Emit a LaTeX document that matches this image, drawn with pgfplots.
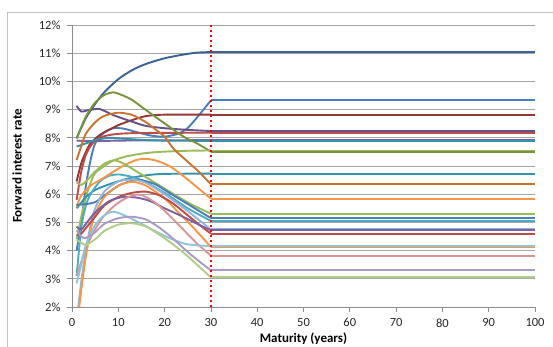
\documentclass[border=0pt]{standalone}
\usepackage{fontspec}
\setmainfont{Carlito}
\usepackage{pgfplots}
\pgfplotsset{compat=1.18}
\definecolor{axisgray}{HTML}{8C8C8C}
\definecolor{gridgray}{HTML}{A6A6A6}
\definecolor{cDarkBlue}{HTML}{3B6196}
\definecolor{cBlue}{HTML}{4A7EBB}
\definecolor{cDarkRed}{HTML}{953735}
\definecolor{cRed}{HTML}{BE4B48}
\definecolor{cDarkPurple}{HTML}{65508A}
\definecolor{cPurple}{HTML}{7D60A0}
\definecolor{cOlive}{HTML}{77933C}
\definecolor{cGreen}{HTML}{9BBB59}
\definecolor{cLightGreen}{HTML}{B3CC86}
\definecolor{cTeal}{HTML}{3592AB}
\definecolor{cAqua}{HTML}{4BACC6}
\definecolor{cBrownOrange}{HTML}{C8742F}
\definecolor{cOrange}{HTML}{F79646}
\definecolor{cLightBlue}{HTML}{8EC3DC}
\definecolor{cBlueLav}{HTML}{95B3D7}
\definecolor{cPink}{HTML}{D99694}
\definecolor{cLavender}{HTML}{A99BC5}
\newcommand{\ser}[3]{%
  \addplot[#1, line width=1.9pt, smooth, tension=0.45, line join=round] coordinates {#2};
  \addplot[#1, line width=1.9pt] coordinates {(30,#3) (100,#3)};
}
\begin{document}
\begin{tikzpicture}
\path[use as bounding box] (-72pt,-40pt) rectangle (481pt,307pt);
\draw[gridgray!70, line width=0.8pt] (-65pt,-60pt) -- (-65pt,295pt) -- (500pt,295pt);
\begin{axis}[
  scale only axis, width=463pt, height=282pt,
  at={(0pt,0pt)}, anchor=south west,
  xmin=0, xmax=100, ymin=2, ymax=12,
  axis x line*=bottom, axis y line*=left,
  axis line style={color=axisgray, line width=0.8pt, -},
  xtick={0,10,20,30,40,50,60,70,80,90,100},
  xticklabels={0,10,20,30,40,50,60,70,80,90,100},
  ytick={2,3,4,5,6,7,8,9,10,11,12},
  yticklabels={2\%,3\%,4\%,5\%,6\%,7\%,8\%,9\%,10\%,11\%,12\%},
  ymajorgrids, grid style={gridgray, line width=0.8pt},
  tick align=outside, major tick length=5pt,
  tick style={axisgray, line width=0.8pt},
  tick label style={font=\fontsize{12.5}{14}\selectfont, color=black!85},
  yticklabel style={xshift=-3pt},
  xticklabel style={yshift=-3pt},
  xlabel={Maturity (years)}, ylabel={Forward interest rate},
  label style={font=\bfseries\fontsize{13}{15}\selectfont},
  xlabel style={at={(axis description cs:0.5,0)}, anchor=center, yshift=-31.5pt},
  ylabel style={at={([xshift=-55pt]axis description cs:0,0.5)}, anchor=center},
]
% A dark blue -> 11.04
\ser{cDarkBlue}{(1,7.98)(3,8.7)(5,9.2)(7,9.62)(10,10.08)(13,10.4)(16,10.62)(20,10.82)(24,10.95)(27,11.02)(30,11.04)}{11.04}
% B blue -> 9.33
\ser{cBlue}{(1,4.0)(2,5.0)(3,6.3)(4,7.2)(5,7.8)(7,8.2)(9,8.34)(11,8.33)(14,8.2)(17,8.08)(20,8.04)(23,8.15)(25,8.35)(27,8.72)(29,9.12)(30,9.33)}{9.33}
% C dark red -> 8.82
\ser{cDarkRed}{(1,6.45)(2,7.1)(3,7.5)(4,7.8)(6,8.1)(8,8.28)(10,8.45)(13,8.63)(16,8.77)(20,8.82)(30,8.82)}{8.82}
% D dark purple -> 8.24
\ser{cDarkPurple}{(1,9.13)(2,8.93)(3,8.96)(4,8.99)(6,9.02)(9,8.8)(13,8.57)(16,8.42)(20,8.34)(25,8.28)(30,8.24)}{8.24}
% E red -> 8.18
\ser{cRed}{(1,5.8)(2,6.8)(3,7.4)(4,7.7)(5,7.9)(7,8.06)(10,8.14)(15,8.17)(30,8.18)}{8.18}
% F purple -> 7.92
\ser{cPurple}{(1,7.9)(5,7.88)(10,7.9)(20,7.91)(30,7.92)}{7.92}
% G teal -> 7.89
\ser{cTeal}{(1,7.69)(3,7.8)(5,7.92)(8,8.0)(10,7.98)(15,7.93)(20,7.9)(30,7.89)}{7.89}
% H olive -> 7.51
\ser{cOlive}{(1,7.98)(3,8.75)(5,9.25)(7,9.52)(9,9.61)(11,9.5)(13,9.34)(16,8.98)(20,8.51)(24,8.05)(27,7.8)(30,7.51)}{7.51}
% I green -> 7.55
\ser{cGreen}{(1,4.4)(2,5.2)(3,5.9)(4,6.4)(5,6.75)(7,7.0)(9,7.2)(12,7.35)(16,7.46)(20,7.51)(25,7.54)(30,7.55)}{7.55}
% J teal -> 6.73
\ser{cTeal}{(1,5.5)(2,5.7)(3,5.9)(5,6.15)(8,6.35)(12,6.55)(16,6.67)(20,6.72)(30,6.73)}{6.73}
% K aqua -> 5.05
\ser{cAqua}{(1,3.1)(2,4.8)(3,5.6)(4,6.0)(6,6.45)(8,6.65)(10,6.7)(12,6.65)(15,6.5)(20,6.05)(25,5.5)(30,5.05)}{5.05}
% L brown orange -> 6.35
\ser{cBrownOrange}{(1,7.21)(2,7.7)(3,8.15)(5,8.55)(7,8.78)(10,8.89)(13,8.81)(16,8.55)(18,8.3)(20,8.04)(22,7.6)(25,7.15)(27.5,6.78)(30,6.35)}{6.35}
% M orange -> 5.84
\ser{cOrange}{(1,5.56)(2,5.95)(4,6.3)(6,6.5)(8,6.7)(11,7.0)(14,7.22)(16,7.25)(18,7.2)(21,7.0)(24,6.65)(27,6.25)(30,5.84)}{5.84}
% N green -> 5.31
\ser{cGreen}{(1,6.42)(2,6.33)(3,6.45)(5,6.8)(7,7.08)(9,7.2)(11,7.1)(14,6.8)(17,6.5)(20,6.2)(23,5.9)(26,5.62)(30,5.31)}{5.31}
% O blue -> 5.15
\ser{cBlue}{(1,5.62)(3,5.65)(5,5.72)(7,5.95)(10,6.3)(13,6.48)(15,6.5)(18,6.35)(21,6.05)(24,5.75)(27,5.45)(30,5.15)}{5.15}
% P blue-lavender -> 4.75
\ser{cBlueLav}{(1,1.5)(2,2.9)(3,4.0)(4,4.9)(5,5.5)(7,6.1)(10,6.45)(13,6.52)(16,6.4)(20,6.0)(25,5.4)(30,4.75)}{4.75}
% Q orange -> 4.13
\ser{cOrange}{(1,1.2)(2,2.6)(3,3.8)(4,4.7)(5,5.3)(7,5.9)(10,6.3)(13,6.44)(16,6.3)(20,5.85)(23,5.35)(26,4.85)(30,4.13)}{4.13}
% R red -> 4.60
\ser{cRed}{(1,4.55)(2,4.6)(3,4.8)(5,5.2)(7,5.6)(10,5.9)(13,6.05)(16,6.09)(19,5.95)(22,5.65)(25,5.25)(28,4.85)(30,4.60)}{4.60}
% S purple -> 4.72
\ser{cPurple}{(1,4.85)(2,4.75)(3,4.95)(5,5.35)(8,5.75)(11,5.9)(14,5.88)(17,5.75)(20,5.5)(24,5.2)(27,4.95)(30,4.72)}{4.72}
% T pink -> 3.82
\ser{cPink}{(1,3.13)(2,3.6)(3,4.1)(5,4.75)(7,5.25)(10,5.7)(13,5.95)(15,5.97)(18,5.7)(21,5.25)(24,4.75)(27,4.25)(30,3.82)}{3.82}
% U light blue -> 4.16
\ser{cLightBlue}{(1,2.84)(2,3.5)(3,4.2)(5,4.9)(7,5.25)(9,5.38)(12,5.2)(15,4.95)(19,4.6)(22,4.38)(25,4.22)(30,4.16)}{4.16}
% V lavender -> 3.30
\ser{cLavender}{(1,4.73)(2,4.5)(3,4.45)(5,4.65)(7,4.95)(10,5.15)(13,5.2)(16,5.1)(19,4.8)(22,4.4)(25,3.95)(28,3.55)(30,3.30)}{3.30}
% W light green -> 3.05
\ser{cLightGreen}{(1,4.38)(2,4.28)(3,4.2)(5,4.4)(7,4.7)(10,4.92)(13,4.97)(16,4.85)(19,4.55)(22,4.2)(25,3.8)(28,3.35)(30,3.05)}{3.05}
% red dotted vertical line at 30 years
\addplot[red, line width=2pt, dash pattern=on 2pt off 3pt] coordinates {(30,2) (30,12)};
\end{axis}
\end{tikzpicture}
\end{document}
